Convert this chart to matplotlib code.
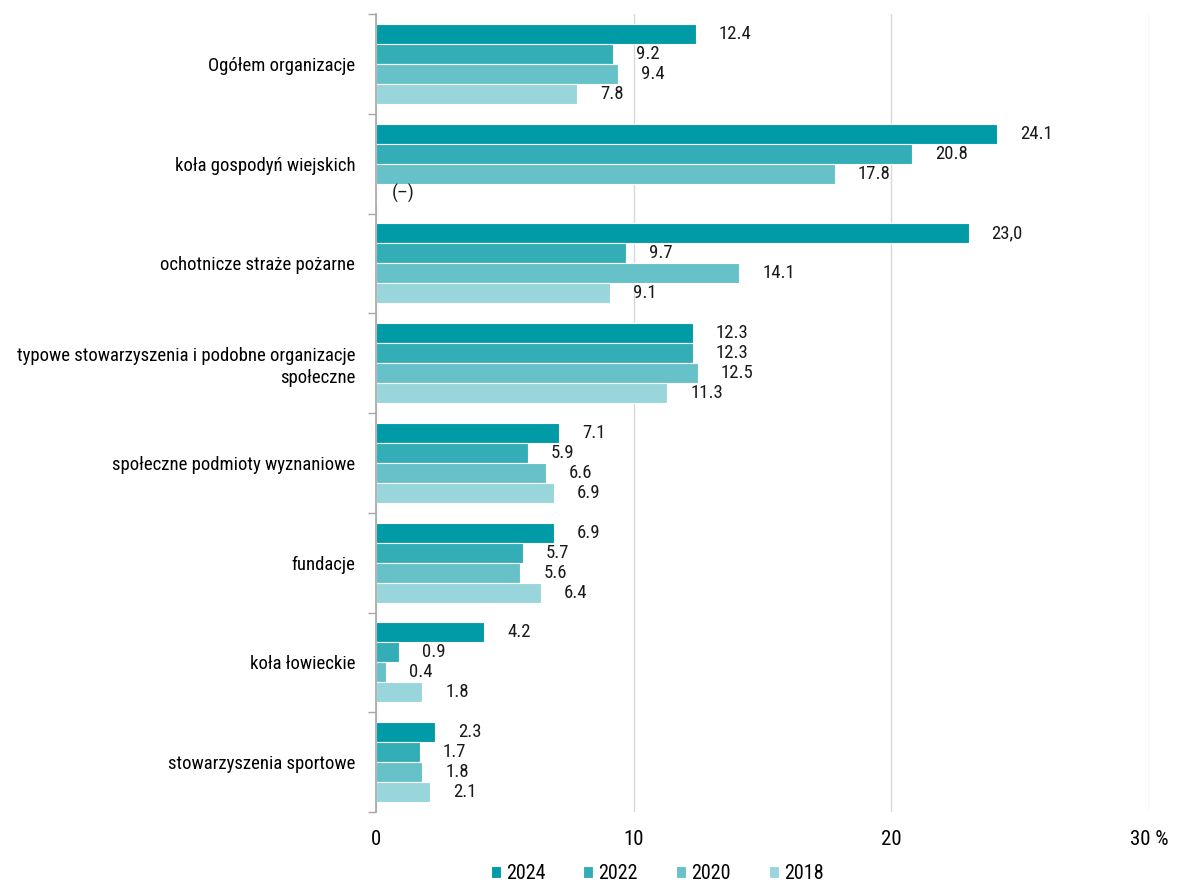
import numpy as np
import matplotlib
matplotlib.use("Agg")
import matplotlib.pyplot as plt
from matplotlib import font_manager
from matplotlib.ticker import FixedLocator

categories = [
    "Ogółem organizacje",
    "koła gospodyń wiejskich",
    "ochotnicze straże pożarne",
    "typowe stowarzyszenia i podobne organizacje\nspołeczne",
    "społeczne podmioty wyznaniowe",
    "fundacje",
    "koła łowieckie",
    "stowarzyszenia sportowe",
]
years = ["2024", "2022", "2020", "2018"]
v2024 = [12.4, 24.1, 23.0, 12.3, 7.1, 6.9, 4.2, 2.3]
v2022 = [9.2, 20.8, 9.7, 12.3, 5.9, 5.7, 0.9, 1.7]
v2020 = [9.4, 17.8, 14.1, 12.5, 6.6, 5.6, 0.4, 1.8]
v2018 = [7.8, None, 9.1, 11.3, 6.9, 6.4, 1.8, 2.1]
label2024 = ["12.4", "24.1", "23,0", "12.3", "7.1", "6.9", "4.2", "2.3"]
label2022 = ["9.2", "20.8", "9.7", "12.3", "5.9", "5.7", "0.9", "1.7"]
label2020 = ["9.4", "17.8", "14.1", "12.5", "6.6", "5.6", "0.4", "1.8"]
label2018 = ["7.8", "(–)", "9.1", "11.3", "6.9", "6.4", "1.8", "2.1"]
xticks = [0, 10, 20, 30]
xticklabels = ["0", "10", "20", "30 %"]

colors = ["#009BA6", "#33AEB6", "#66C2C8", "#99D6DB"]

# pick a narrow face if one is installed
available = {f.name for f in font_manager.fontManager.ttflist}
family = "DejaVu Sans"
stretch = "normal"
for name in ["Roboto Condensed", "Liberation Sans Narrow", "DejaVu Sans Condensed",
             "Open Sans Condensed", "Noto Sans Condensed"]:
    if name in available:
        family = name
        break
else:
    stretch = "condensed"
plt.rcParams["font.family"] = [family, "DejaVu Sans"]
plt.rcParams["font.stretch"] = stretch

fig = plt.figure(figsize=(11.82, 8.85), dpi=100)
ax = fig.add_axes([376 / 1182, 1 - 812 / 885, (1149 - 376) / 1182, (812 - 14) / 885])

series = [v2024, v2022, v2020, v2018]
labels = [label2024, label2022, label2020, label2018]
h = 0.2
y = np.arange(len(categories))
for j, (vals, labs) in enumerate(zip(series, labels)):
    pos = y + (j - 1.5) * h
    num = np.array([np.nan if v is None else v for v in vals], dtype=float)
    ax.barh(pos, np.nan_to_num(num), height=h, color=colors[j], edgecolor="white",
            linewidth=0.8, label=years[j], zorder=3)
    for p, v, t in zip(pos, num, labs):
        if np.isnan(v):
            ax.annotate(t, (0, p), xytext=(11.5, 0), textcoords="offset points",
                        ha="left", va="center", fontsize=13.5, color="#1a1a1a")
        else:
            ax.annotate(t, (v, p), xytext=(16.5, 0), textcoords="offset points",
                        ha="left", va="center", fontsize=13.5, color="#1a1a1a")

ax.set_xlim(0, 30)
ax.set_ylim(len(categories) - 0.5, -0.5)
ax.set_xticks(xticks)
ax.set_xticklabels(xticklabels, fontsize=15)
ax.tick_params(axis="x", length=0, pad=13)
ax.set_yticks(y)
ax.set_yticklabels(categories, fontsize=13.5, ha="right", linespacing=1.3)
ax.tick_params(axis="y", which="major", length=0, pad=15)
ax.yaxis.set_minor_locator(FixedLocator(np.arange(len(categories) + 1) - 0.5))
ax.tick_params(axis="y", which="minor", length=6, color="#A6A6A6", width=1)

ax.grid(axis="x", color="#D9D9D9", linewidth=1, zorder=0)
for s in ["top", "right", "bottom"]:
    ax.spines[s].set_visible(False)
ax.spines["left"].set_color("#A6A6A6")
ax.spines["left"].set_linewidth(1.2)
ax.spines["left"].set_zorder(4)

fig.legend(loc="center", bbox_to_anchor=(0.556, 0.013), ncol=4, frameon=False,
           fontsize=14.5, handlelength=0.5, handleheight=0.6, handletextpad=0.25,
           columnspacing=1.9, borderpad=0.1)

fig.savefig("out.png", dpi=100)
